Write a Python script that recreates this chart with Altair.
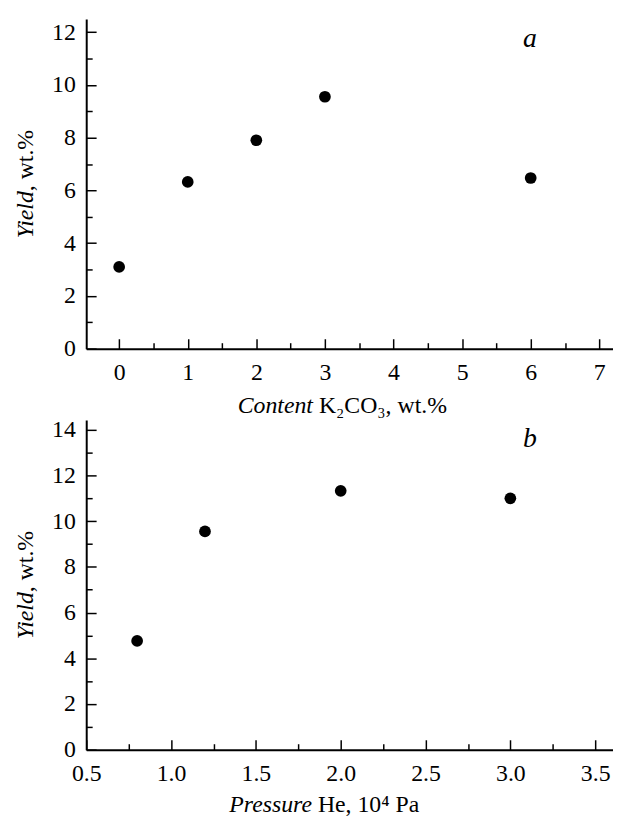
import altair as alt
import pandas as pd

# ---- data ----
content = [0, 1, 2, 3, 6]
yield_a = [3.10, 6.32, 7.90, 9.55, 6.47]

pressure = [0.8, 1.2, 2.0, 3.0]
yield_b = [4.76, 9.55, 11.33, 11.00]

xa_major = [0, 1, 2, 3, 4, 5, 6, 7]
xa_minor = [0.5, 1.5, 2.5, 3.5, 4.5, 5.5, 6.5]
ya_major = [0, 2, 4, 6, 8, 10, 12]
ya_minor = [1, 3, 5, 7, 9, 11]

xb_major = [0.5, 1.0, 1.5, 2.0, 2.5, 3.0, 3.5]
xb_minor = [0.75, 1.25, 1.75, 2.25, 2.75, 3.25]
yb_major = [0, 2, 4, 6, 8, 10, 12, 14]
yb_minor = [1, 3, 5, 7, 9, 11, 13]

FONT = "Times New Roman"
W = 532
H = 333
LABEL_SIZE = 24
TITLE_SIZE = 24


def panel(df, xdom, ydom, xmaj, xmin, ymaj, ymin, xfmt,
          letter, letter_xy, xt_it, xt_rest, xt_xy, yt_it, yt_rest, yt_xy):
    xs = alt.Scale(domain=xdom, nice=False, zero=False)
    ys = alt.Scale(domain=ydom, nice=False, zero=False)
    base = alt.Chart(df)

    pts = base.mark_circle(size=140, color="black", opacity=1).encode(
        x=alt.X("x:Q", scale=xs, title=None,
                axis=alt.Axis(orient="bottom", values=xmaj, format=xfmt, ticks=False,
                              domain=True, domainColor="black", domainWidth=2,
                              labelFont=FONT, labelFontSize=LABEL_SIZE, labelColor="black",
                              labelPadding=12, labelFlush=False, labelOverlap=False, grid=False)),
        y=alt.Y("y:Q", scale=ys, title=None,
                axis=alt.Axis(orient="left", values=ymaj, format="d", ticks=False,
                              domain=True, domainColor="black", domainWidth=2,
                              labelFont=FONT, labelFontSize=LABEL_SIZE, labelColor="black",
                              labelPadding=11, labelFlush=False, labelOverlap=False, grid=False)),
    )

    def tick_layer(xv, yv, size):
        return base.mark_point(opacity=0).encode(
            x=alt.X("x:Q", scale=xs, title=None,
                    axis=alt.Axis(orient="bottom", values=xv, labels=False, domain=False,
                                  ticks=True, tickSize=size, offset=-size, tickColor="black",
                                  tickWidth=1.5, grid=False)),
            y=alt.Y("y:Q", scale=ys, title=None,
                    axis=alt.Axis(orient="left", values=yv, labels=False, domain=False,
                                  ticks=True, tickSize=size, offset=-size, tickColor="black",
                                  tickWidth=1.5, grid=False)),
        )

    major = tick_layer(xmaj, ymaj, 10)
    minor = tick_layer(xmin, ymin, 6)

    one = alt.Chart(pd.DataFrame({"k": [0]}))

    def txt(s, x, y, style, align, angle=0, size=TITLE_SIZE):
        kw = dict(font=FONT, fontSize=size, fontStyle=style, align=align,
                  baseline="alphabetic", color="black")
        if angle:
            kw["angle"] = angle
        return one.mark_text(**kw).encode(
            x=alt.value(x), y=alt.value(y), text=alt.value(s))

    t_letter = txt(letter, letter_xy[0], letter_xy[1], "italic", "center", size=28)
    t_x1 = txt(xt_it, xt_xy[0], xt_xy[1], "italic", "right")
    t_x2 = txt(xt_rest, xt_xy[0] + 6, xt_xy[1], "normal", "left")
    t_y1 = txt(yt_it, yt_xy[0], yt_xy[1], "italic", "right", angle=270)
    t_y2 = txt(yt_rest, yt_xy[0], yt_xy[1], "normal", "left", angle=270)

    return alt.layer(pts, major, minor, t_letter, t_x1, t_x2, t_y1, t_y2).resolve_axis(
        x="independent", y="independent"
    ).properties(width=W, height=H)


df_a = pd.DataFrame({"x": content, "y": yield_a})
df_b = pd.DataFrame({"x": pressure, "y": yield_b})

top = panel(df_a, [-0.48, 7.2], [0, 12.5], xa_major, xa_minor, ya_major, ya_minor, "d",
            "a", (448, 28), "Content", "K₂CO₃, wt.%", (229, 398),
            "Yield", ", wt.%", (-54, 174))

bottom = panel(df_b, [0.5, 3.605], [0, 14.43], xb_major, xb_minor, yb_major, yb_minor, ".1f",
               "b", (448, 27), "Pressure", "He, 10⁴ Pa", (228, 396),
               "Yield", ", wt.%", (-54, 174))

chart = alt.vconcat(top, bottom, spacing=72, bounds="flush").properties(
    padding={"left": 6, "top": 7, "right": 0, "bottom": 0},
    background="white",
).configure_view(strokeWidth=0).configure_axis(grid=False)

chart.save("out.html", embed_options={"renderer": "svg", "actions": False})
